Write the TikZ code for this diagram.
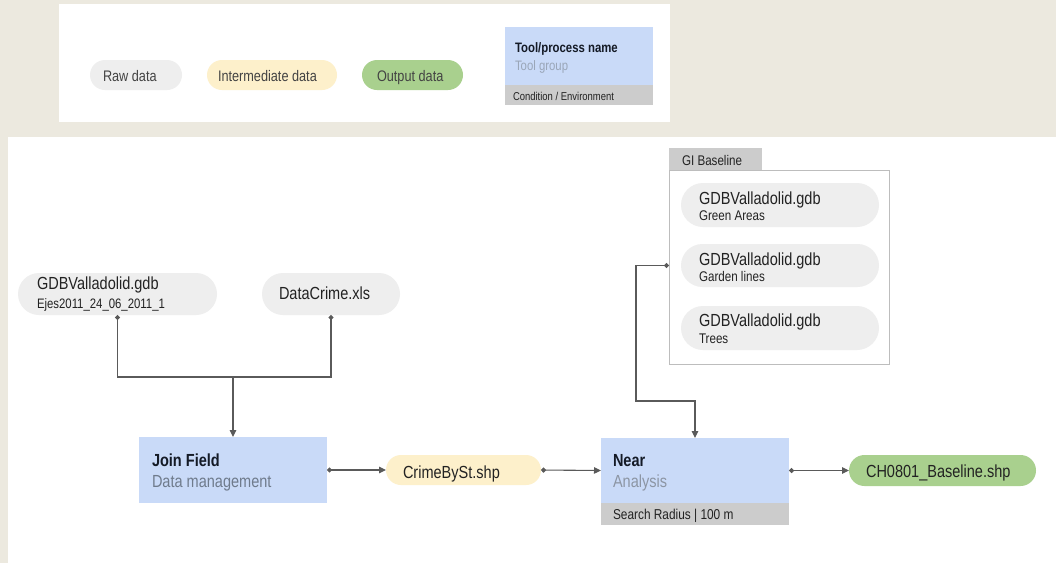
\documentclass[tikz,border=0pt]{standalone}
\usepackage{fontspec}
\setmainfont{Liberation Sans}[FakeStretch=0.83]
\usetikzlibrary{arrows.meta,shapes.misc}

\definecolor{paper}{HTML}{ECE9DF}
\definecolor{rawfill}{HTML}{EEEEEE}
\definecolor{midfill}{HTML}{FDF0CB}
\definecolor{outfill}{HTML}{A9D08E}
\definecolor{toolfill}{HTML}{C9DAF8}
\definecolor{condfill}{HTML}{CCCCCC}
\definecolor{ink}{HTML}{222222}
\definecolor{titleink}{HTML}{141A26}
\definecolor{groupink}{HTML}{6F7B8C}
\definecolor{legroupink}{HTML}{9AA6B8}
\definecolor{wire}{HTML}{5A5A5A}
\definecolor{frame}{HTML}{BDBDBD}

\newcommand\fsMain{\fontsize{17.5}{20}\selectfont}
\newcommand\fsSub{\fontsize{14}{16}\selectfont}
\newcommand\fsEjes{\fontsize{13.7}{16}\selectfont}
\newcommand\fsCond{\fontsize{14.3}{16}\selectfont}
\newcommand\fsLeg{\fontsize{15.3}{17}\selectfont}
\newcommand\fsLegTool{\fontsize{13.7}{16}\selectfont}
\newcommand\fsLegCond{\fontsize{11.4}{13}\selectfont}

\begin{document}
\begin{tikzpicture}[x=1pt,y=-1pt,
  every node/.style={inner sep=0pt, outer sep=0pt},
  pill/.style n args={3}{rounded rectangle, fill=#1, minimum width=#2, minimum height=#3},
  box/.style n args={3}{rectangle, fill=#1, minimum width=#2, minimum height=#3},
  lbl/.style={anchor=base west, text=ink},
  link/.style={draw=wire, line width=1.1pt},
  dotarrow/.style={{Circle[length=5pt]}-{Triangle[length=7pt,width=6.5pt]}},
  dotdot/.style={{Circle[length=5pt]}-{Circle[length=5pt]}},
  plainarrow/.style={-{Triangle[length=7pt,width=6.5pt]}}
]
% page background
\fill[paper] (0,0) rectangle (1056,563);
\useasboundingbox (0,0) rectangle (1056,563);
\fill[white] (8,137) rectangle (1056,563);

% ---------- legend ----------
\node[box={white}{611pt}{118pt}] (legend) at (364.5,63) {};
\node[pill={rawfill}{92pt}{30pt}] (lraw) at (136,75) {};
\node[lbl, font=\fsLeg, text=ink!85] at (103,81.7) {Raw data};
\node[pill={midfill}{130pt}{30pt}] (lmid) at (272,75) {};
\node[lbl, font=\fsLeg, text=ink!85] at (218,81.7) {Intermediate data};
\node[pill={outfill}{101pt}{30pt}] (lout) at (412.5,75) {};
\node[lbl, font=\fsLeg, text=ink!85] at (377,81.7) {Output data};
\node[box={toolfill}{148pt}{58pt}] (ltool) at (579,56) {};
\node[box={condfill}{148pt}{20pt}] (lcond) at (579,95) {};
\node[lbl, font=\fsLegTool\bfseries, text=titleink] at (515,52.3) {Tool/process name};
\node[lbl, font=\fsLegTool, text=legroupink] at (515,70) {Tool group};
\node[lbl, font=\fsLegCond] at (513,100) {Condition / Environment};

% ---------- raw inputs ----------
\node[pill={rawfill}{199pt}{42pt}] (raw1) at (117.5,294) {};
\node[lbl, font=\fsMain] at (37,289.3) {GDBValladolid.gdb};
\node[lbl, font=\fsEjes] at (37,308.3) {Ejes2011\_24\_06\_2011\_1};
\node[pill={rawfill}{138pt}{42pt}] (data) at (331,294) {};
\node[lbl, font=\fsMain] at (279,299.3) {DataCrime.xls};

% ---------- GI baseline group ----------
\node[box={white}{220pt}{194pt}, draw=frame, line width=0.8pt] (gbox) at (779,267) {};
\node[box={condfill}{93pt}{22pt}] (gtab) at (715.5,159) {};
\node[lbl, font=\fsSub] at (682,165) {GI Baseline};
\node[pill={rawfill}{198pt}{44pt}] (g1) at (780,205) {};
\node[lbl, font=\fsMain] at (699,204) {GDBValladolid.gdb};
\node[lbl, font=\fsSub] at (699,220.7) {Green Areas};
\node[pill={rawfill}{198pt}{43pt}] (g2) at (780,265.5) {};
\node[lbl, font=\fsMain] at (699,265) {GDBValladolid.gdb};
\node[lbl, font=\fsSub] at (699,281.7) {Garden lines};
\node[pill={rawfill}{198pt}{44pt}] (g3) at (780,328) {};
\node[lbl, font=\fsMain] at (699,326) {GDBValladolid.gdb};
\node[lbl, font=\fsSub] at (699,343.3) {Trees};

% ---------- tools ----------
\node[box={toolfill}{188pt}{66pt}] (join) at (233,470) {};
\node[lbl, font=\fsMain\bfseries, text=titleink] at (152,466) {Join Field};
\node[lbl, font=\fsMain, text=groupink] at (152,487.3) {Data management};

\node[box={toolfill}{188pt}{65pt}] (near) at (695,470.5) {};
\node[box={condfill}{188pt}{22pt}] (nearcond) at (695,514) {};
\node[lbl, font=\fsMain\bfseries, text=titleink] at (613,466) {Near};
\node[lbl, font=\fsMain, text=groupink!80] at (613,487.3) {Analysis};
\node[lbl, font=\fsCond] at (613,519.3) {Search Radius | 100 m};

% ---------- intermediate and output data ----------
\node[pill={midfill}{155pt}{30pt}] (crime) at (463.5,470) {};
\node[lbl, font=\fsMain] at (403,478.3) {CrimeBySt.shp};
\node[pill={outfill}{187pt}{31pt}] (out) at (942.5,470.5) {};
\node[lbl, font=\fsMain] at (866,477.3) {CH0801\_Baseline.shp};

% ---------- connectors ----------
\coordinate (merge) at (233,377);
\coordinate (bend) at (636,401);
\draw[link, dotdot] (raw1.south) |- (merge) -| (data.south);
\draw[link, plainarrow] (merge) -- (join.north);
\draw[link, dotarrow] (join.east) -- (crime.west);
\draw[link, dotarrow] (crime.east) -- (near.west);
\draw[link, dotarrow] (near.east) -- (out.west);
\draw[link, dotarrow] (gbox.west |- g2.center) -| (bend) -| (near.north);
\end{tikzpicture}
\end{document}
